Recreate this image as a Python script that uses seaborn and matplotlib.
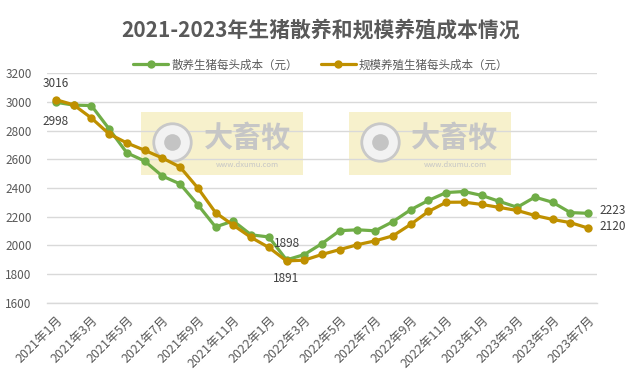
import matplotlib
matplotlib.use("Agg")
import matplotlib.pyplot as plt
import seaborn as sns
import pandas as pd
from matplotlib.patches import Rectangle

# ---- data ----
months = [f"{y}年{m}月" for y, ms in ((2021, range(1, 13)), (2022, range(1, 13)), (2023, range(1, 8))) for m in ms]
series_names = ["散养生猪每头成本（元）", "规模养殖生猪每头成本（元）"]
free_range = [2998, 2978, 2975, 2812, 2645, 2588, 2483, 2428, 2283, 2128, 2170, 2073, 2058, 1898,
              1935, 2012, 2102, 2108, 2101, 2165, 2248, 2313, 2368, 2375, 2348, 2306, 2265, 2336,
              2300, 2228, 2223]
large_scale = [3016, 2980, 2888, 2777, 2714, 2663, 2609, 2546, 2400, 2228, 2140, 2055, 1985, 1891,
               1896, 1936, 1970, 2004, 2031, 2066, 2146, 2236, 2300, 2301, 2285, 2264, 2243, 2208,
               2180, 2158, 2120]
y_ticks = [1600, 1800, 2000, 2200, 2400, 2600, 2800, 3000, 3200]
title = "2021-2023年生猪散养和规模养殖成本情况"

colors = ["#70AD47", "#BF9000"]
text_gray = "#595959"

sns.set_theme(style="white")
plt.rcParams["font.family"] = ["Noto Sans CJK SC", "DejaVu Sans"]

df = pd.DataFrame({
    "idx": list(range(len(months))) * 2,
    "value": free_range + large_scale,
    "series": [series_names[0]] * len(months) + [series_names[1]] * len(months),
})

fig = plt.figure(figsize=(6.42, 3.79), dpi=100)
ax = fig.add_axes([47 / 642, 1 - 302.6 / 379, 550 / 642, 229.3 / 379])

# watermarks
for x0 in (0.171, 0.549):
    ax.add_patch(Rectangle((x0, 0.556), 0.294, 0.275, transform=ax.transAxes,
                           facecolor="#F6EFC3", edgecolor="none", alpha=0.85, zorder=0.5))
    cx = x0 + 0.057
    ax.plot([cx], [0.70], transform=ax.transAxes, marker="o", markersize=27,
            markerfacecolor="#F2F2F2", markeredgecolor="#C8C8C8", markeredgewidth=2.0, zorder=0.6)
    ax.plot([cx], [0.70], transform=ax.transAxes, marker="o", markersize=12,
            markerfacecolor="#C4C4C4", markeredgecolor="none", zorder=0.7)
    ax.text(x0 + 0.193, 0.72, "大畜牧", transform=ax.transAxes, ha="center", va="center",
            fontsize=21, fontweight="bold", color="#C6C6C6", zorder=0.7)
    ax.text(x0 + 0.193, 0.60, "www.dxumu.com", transform=ax.transAxes, ha="center", va="center",
            fontsize=5.5, color="#C6C6C6", zorder=0.7)

sns.lineplot(data=df, x="idx", y="value", hue="series", palette=colors, marker="o",
             markersize=6, markeredgewidth=0, linewidth=2.3, ax=ax, legend=True, zorder=3)

ax.set_xlim(-0.5, len(months) - 0.5)
ax.set_ylim(1600, 3200)
ax.set_yticks(y_ticks)
ax.set_yticklabels([str(v) for v in y_ticks], fontsize=8.5, color=text_gray)
ax.yaxis.grid(True, color="#D9D9D9", linewidth=1)
ax.set_axisbelow(True)

ax.set_xticks(range(0, len(months), 2))
ax.set_xticklabels(months[::2], rotation=45, ha="right", rotation_mode="anchor",
                   fontsize=9, color=text_gray)
ax.set_xticks([i - 0.5 for i in range(0, len(months), 2)], minor=True)
ax.tick_params(axis="x", which="major", length=0, pad=8)
ax.tick_params(axis="x", which="minor", length=5, color="#D9D9D9", width=1, direction="out")
ax.tick_params(axis="y", length=0, pad=11)
ax.set_xlabel("")
ax.set_ylabel("")
for s in ("top", "right", "left"):
    ax.spines[s].set_visible(False)
ax.spines["bottom"].set_color("#D9D9D9")
ax.spines["bottom"].set_linewidth(1)

# data labels
lab_kw = dict(textcoords="offset points", fontsize=8.5, color="#404040")
ax.annotate(str(large_scale[0]), (0, large_scale[0]), xytext=(0, 12), ha="center", va="center", **lab_kw)
ax.annotate(str(free_range[0]), (0, free_range[0]), xytext=(0, -14), ha="center", va="center", **lab_kw)
ax.annotate(str(free_range[13]), (13, free_range[13]), xytext=(0, 12), ha="center", va="center", **lab_kw)
ax.annotate(str(large_scale[13]), (13, large_scale[13]), xytext=(0, -13), ha="center", va="center", **lab_kw)
ax.annotate(str(free_range[-1]), (30, free_range[-1]), xytext=(8, 2), ha="left", va="center", **lab_kw)
ax.annotate(str(large_scale[-1]), (30, large_scale[-1]), xytext=(8, 1), ha="left", va="center", **lab_kw)

# legend
handles, labels = ax.get_legend_handles_labels()
ax.legend_.remove()
fig.legend(handles, labels, loc="center", bbox_to_anchor=(0.5, 1 - 65 / 379), ncol=2,
           frameon=False, fontsize=8.3, handlelength=3.0, columnspacing=2.0, handletextpad=0.3,
           labelcolor=text_gray)

fig.text(0.5, 1 - 30 / 379, title, ha="center", va="center", fontsize=15,
         fontweight="bold", color=text_gray)

fig.savefig("out.png", dpi=100, facecolor="white")
